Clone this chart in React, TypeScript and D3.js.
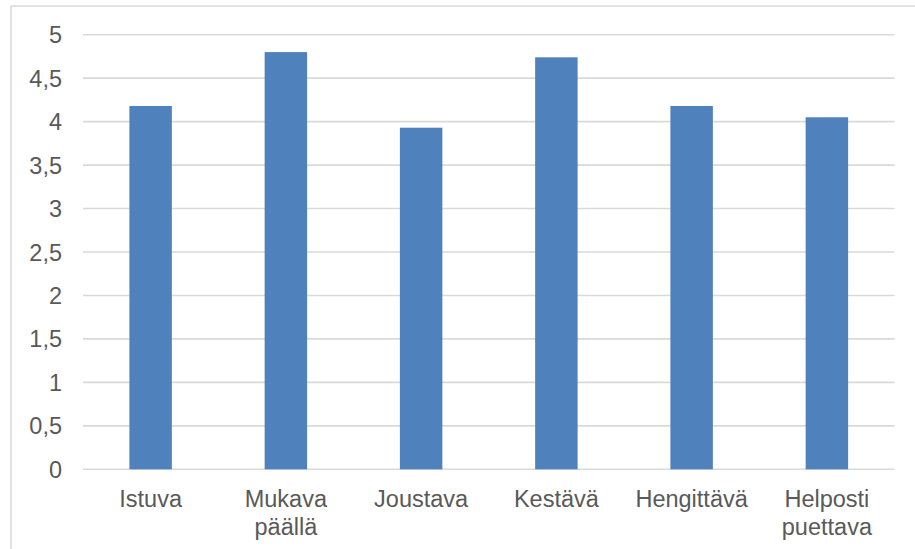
import React from "react";
import * as d3 from "d3";

const categories: string[][] = [
  ["Istuva"],
  ["Mukava", "päällä"],
  ["Joustava"],
  ["Kestävä"],
  ["Hengittävä"],
  ["Helposti", "puettava"],
];
const values: number[] = [4.18, 4.8, 3.93, 4.74, 4.18, 4.05];
const yTicks: number[] = [0, 0.5, 1, 1.5, 2, 2.5, 3, 3.5, 4, 4.5, 5];
const yTickLabels: string[] = ["0", "0,5", "1", "1,5", "2", "2,5", "3", "3,5", "4", "4,5", "5"];

const W = 915;
const H = 549;
const left = 83;
const right = 894.5;
const top = 34.7;
const bottom = 469.3;
const FONT = "'Liberation Sans', Arial, sans-serif";
const TEXT = "#595959";
const GRID = "#d9d9d9";
const BAR = "#4f81bd";

export default function App() {
  const x = d3
    .scaleBand<number>()
    .domain(d3.range(categories.length))
    .range([left, right])
    .paddingInner(0.686)
    .paddingOuter(0.343);
  const y = d3.scaleLinear().domain([0, 5]).range([bottom, top]);

  return (
    <div style={{ position: "fixed", left: 0, top: 0, width: W, height: H, background: "#fff" }}>
      <svg width={W} height={H} style={{ display: "block" }}>
        <rect x={0} y={0} width={W} height={H} fill="#fff" />
        {/* chart border */}
        <line x1={11} y1={6} x2={W + 5} y2={6} stroke={GRID} strokeWidth={1.5} />
        <line x1={11} y1={6} x2={11} y2={H + 5} stroke={GRID} strokeWidth={1.5} />
        {/* gridlines */}
        {yTicks.map((t) => (
          <line
            key={"g" + t}
            x1={left}
            x2={right}
            y1={y(t)}
            y2={y(t)}
            stroke={GRID}
            strokeWidth={1.6}
          />
        ))}
        {/* y labels */}
        {yTicks.map((t, i) => (
          <text
            key={"yl" + t}
            x={62}
            y={y(t) + 8.5}
            textAnchor="end"
            fontFamily={FONT}
            fontSize={23.5}
            fill={TEXT}
          >
            {yTickLabels[i]}
          </text>
        ))}
        {/* bars */}
        {values.map((v, i) => (
          <rect
            key={"b" + i}
            x={x(i)!}
            y={y(v)}
            width={x.bandwidth()}
            height={y(0) - y(v)}
            fill={BAR}
          />
        ))}
        {/* x labels */}
        {categories.map((lines, i) => (
          <text
            key={"xl" + i}
            x={x(i)! + x.bandwidth() / 2}
            y={bottom + 37.4}
            textAnchor="middle"
            fontFamily={FONT}
            fontSize={23.5}
            fill={TEXT}
          >
            {lines.map((l, j) => (
              <tspan key={j} x={x(i)! + x.bandwidth() / 2} dy={j === 0 ? 0 : 27.8}>
                {l}
              </tspan>
            ))}
          </text>
        ))}
      </svg>
    </div>
  );
}
